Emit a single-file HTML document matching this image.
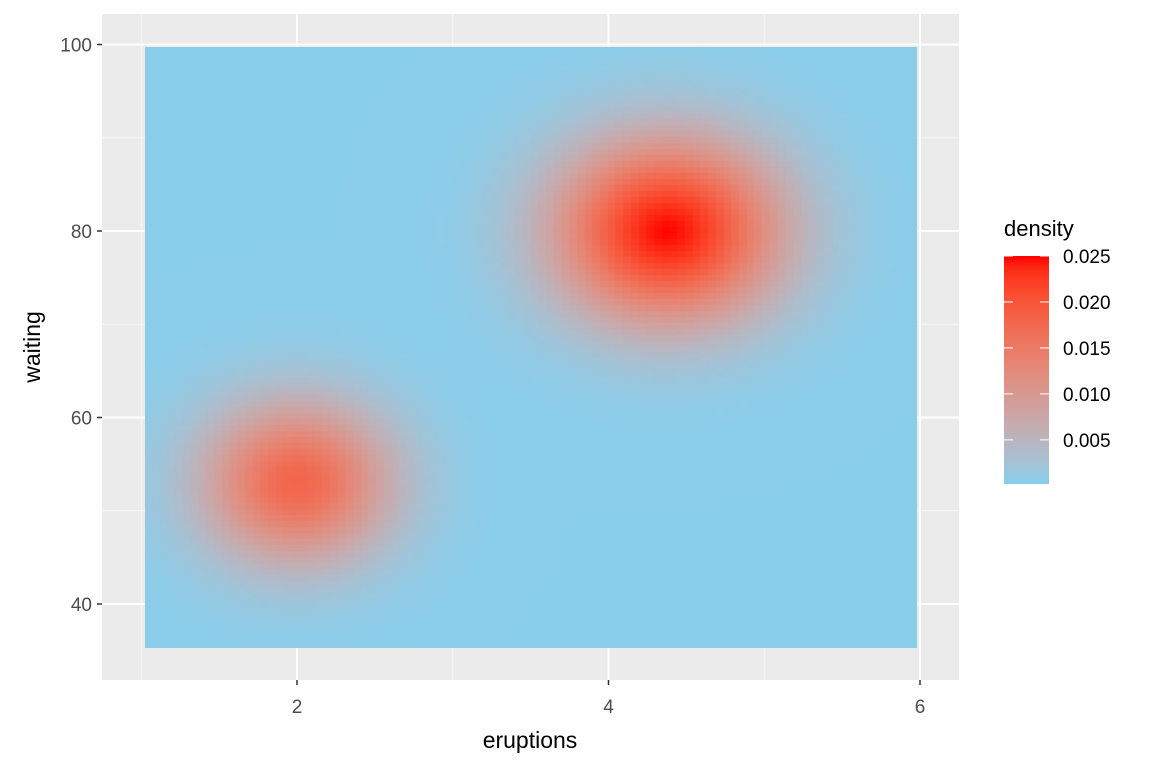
<!DOCTYPE html>
<html><head><meta charset="utf-8"><style>
body{margin:0;background:#fff;font-family:"Liberation Sans",Arial,sans-serif}
#wrap{position:relative;width:1152px;height:768px}
svg text{font-family:"Liberation Sans",Arial,sans-serif}
</style></head><body>
<div id="wrap">
<svg id="svg" width="1152" height="768" style="position:absolute;left:0;top:0"></svg>
<canvas id="cv" width="772" height="601" style="position:absolute;left:145px;top:47px"></canvas>
</div>
<script>
// data: mixture components
const compX=[4.38,2.0];
const compY=[80.0,53.0];
const compSX=[0.5,0.42];
const compSY=[6.8,6.0];
const compH=[0.0246,0.0175];
const baseDensity=0.0003;
const xTicks=[2,4,6];
const yTicks=[40,60,80,100];
const legendTicks=[0.005,0.010,0.015,0.020,0.025];
const gridRangeX=[1.02,5.98];
const gridRangeY=[35.3,99.8];

const X=v=>297+(v-2)*155.75;
const Y=v=>231-(v-80)*9.325;
const NS='http://www.w3.org/2000/svg';
const svg=document.getElementById('svg');
function mk(t,a,p){const e=document.createElementNS(NS,t);for(const k in a)e.setAttribute(k,a[k]);(p||svg).appendChild(e);return e;}
const panel=mk('rect',{x:102,y:14,width:857,height:666,fill:'#EBEBEB'});


[1,3,5].forEach(v=>{const l=mk('line',{x1:X(v),x2:X(v),y1:14,y2:680,stroke:'#F7F7F7','stroke-width':1});

});
[50,70,90].forEach(v=>{const l=mk('line',{x1:102,x2:959,y1:Y(v),y2:Y(v),stroke:'#F7F7F7','stroke-width':1});

});
xTicks.forEach(v=>{const l=mk('line',{x1:X(v),x2:X(v),y1:14,y2:680,stroke:'#fff','stroke-width':2});


const t=mk('line',{x1:X(v),x2:X(v),y1:680,y2:685,stroke:'#333','stroke-width':1.5});


const tx=mk('text',{x:X(v),y:713,'text-anchor':'middle','font-size':19,fill:'#4D4D4D'});tx.textContent=v;

});
yTicks.forEach(v=>{const l=mk('line',{x1:102,x2:959,y1:Y(v),y2:Y(v),stroke:'#fff','stroke-width':2});


const t=mk('line',{x1:97,x2:102,y1:Y(v),y2:Y(v),stroke:'#333','stroke-width':1.5});


const tx=mk('text',{x:92,y:Y(v)+7,'text-anchor':'end','font-size':19,fill:'#4D4D4D'});tx.textContent=v;

});
const xt=mk('text',{x:530,y:748,'text-anchor':'middle','font-size':23,fill:'#000'});xt.textContent='eruptions';


const yt=mk('text',{x:0,y:0,'text-anchor':'middle','font-size':23,fill:'#000',transform:'translate(40,347) rotate(-90)'});yt.textContent='waiting';



function toLin(c){c/=255;return c<=0.04045?c/12.92:Math.pow((c+0.055)/1.055,2.4);}
function toS(c){c=c<=0.0031308?12.92*c:1.055*Math.pow(c,1/2.4)-0.055;return Math.max(0,Math.min(255,Math.round(c*255)));}
function rgb2lab(r,g,b){r=toLin(r);g=toLin(g);b=toLin(b);
let x=(r*0.4124+g*0.3576+b*0.1805)/0.95047,y=r*0.2126+g*0.7152+b*0.0722,z=(r*0.0193+g*0.1192+b*0.9505)/1.08883;
const f=t=>t>0.008856?Math.cbrt(t):7.787*t+16/116;x=f(x);y=f(y);z=f(z);return[116*y-16,500*(x-y),200*(y-z)];}
function lab2rgb(L,a,b){let y=(L+16)/116,x=a/500+y,z=y-b/200;const fi=t=>t*t*t>0.008856?t*t*t:(t-16/116)/7.787;
x=fi(x)*0.95047;y=fi(y);z=fi(z)*1.08883;
return[toS(x*3.2406+y*-1.5372+z*-0.4986),toS(x*-0.9689+y*1.8758+z*0.0415),toS(x*0.0557+y*-0.2040+z*1.0570)];}
const lo=rgb2lab(135,206,235),hi=rgb2lab(255,0,0);
const dMin=0.0002,dMax=0.0250;
function col(d){let t=(d-dMin)/(dMax-dMin);t=Math.max(0,Math.min(1,t));return lab2rgb(lo[0]+(hi[0]-lo[0])*t,lo[1]+(hi[1]-lo[1])*t,lo[2]+(hi[2]-lo[2])*t);}
function dens(x,y){let s=baseDensity;for(let i=0;i<compX.length;i++){const dx=(x-compX[i])/compSX[i],dy=(y-compY[i])/compSY[i];s+=compH[i]*Math.exp(-0.5*(dx*dx+dy*dy));}return s;}
const cv=document.getElementById('cv'),ctx=cv.getContext('2d');
const N=100;const cw=cv.width/N,ch=cv.height/N;
for(let i=0;i<N;i++)for(let j=0;j<N;j++){
const xv=gridRangeX[0]+(i+0.5)/N*(gridRangeX[1]-gridRangeX[0]);
const yv=gridRangeY[1]-(j+0.5)/N*(gridRangeY[1]-gridRangeY[0]);
const c=col(dens(xv,yv));ctx.fillStyle=`rgb(${c[0]},${c[1]},${c[2]})`;
ctx.fillRect(Math.floor(i*cw),Math.floor(j*ch),Math.ceil(cw)+1,Math.ceil(ch)+1);}

const lt=mk('text',{x:1004,y:236,'font-size':22,fill:'#000'});lt.textContent='density';


const defs=mk('defs',{});const lg=mk('linearGradient',{id:'lg',x1:0,y1:1,x2:0,y2:0},defs);
for(let k=0;k<=20;k++){const c=col(dMin+(dMax-dMin)*k/20);mk('stop',{offset:k/20,'stop-color':`rgb(${c[0]},${c[1]},${c[2]})`},lg);}
const LY=v=>484-(v-dMin)/(dMax-dMin)*228;
const bar=mk('rect',{x:1004,y:256,width:45,height:228,fill:'url(#lg)'});


legendTicks.forEach(v=>{const y=LY(v);
mk('line',{x1:1004,x2:1013,y1:y,y2:y,stroke:'#fff','stroke-width':1});
mk('line',{x1:1040,x2:1049,y1:y,y2:y,stroke:'#fff','stroke-width':1});
const t=mk('text',{x:1063,y:y+7,'font-size':19,fill:'#000'});t.textContent=v.toFixed(3);

});
</script>
</body></html>
